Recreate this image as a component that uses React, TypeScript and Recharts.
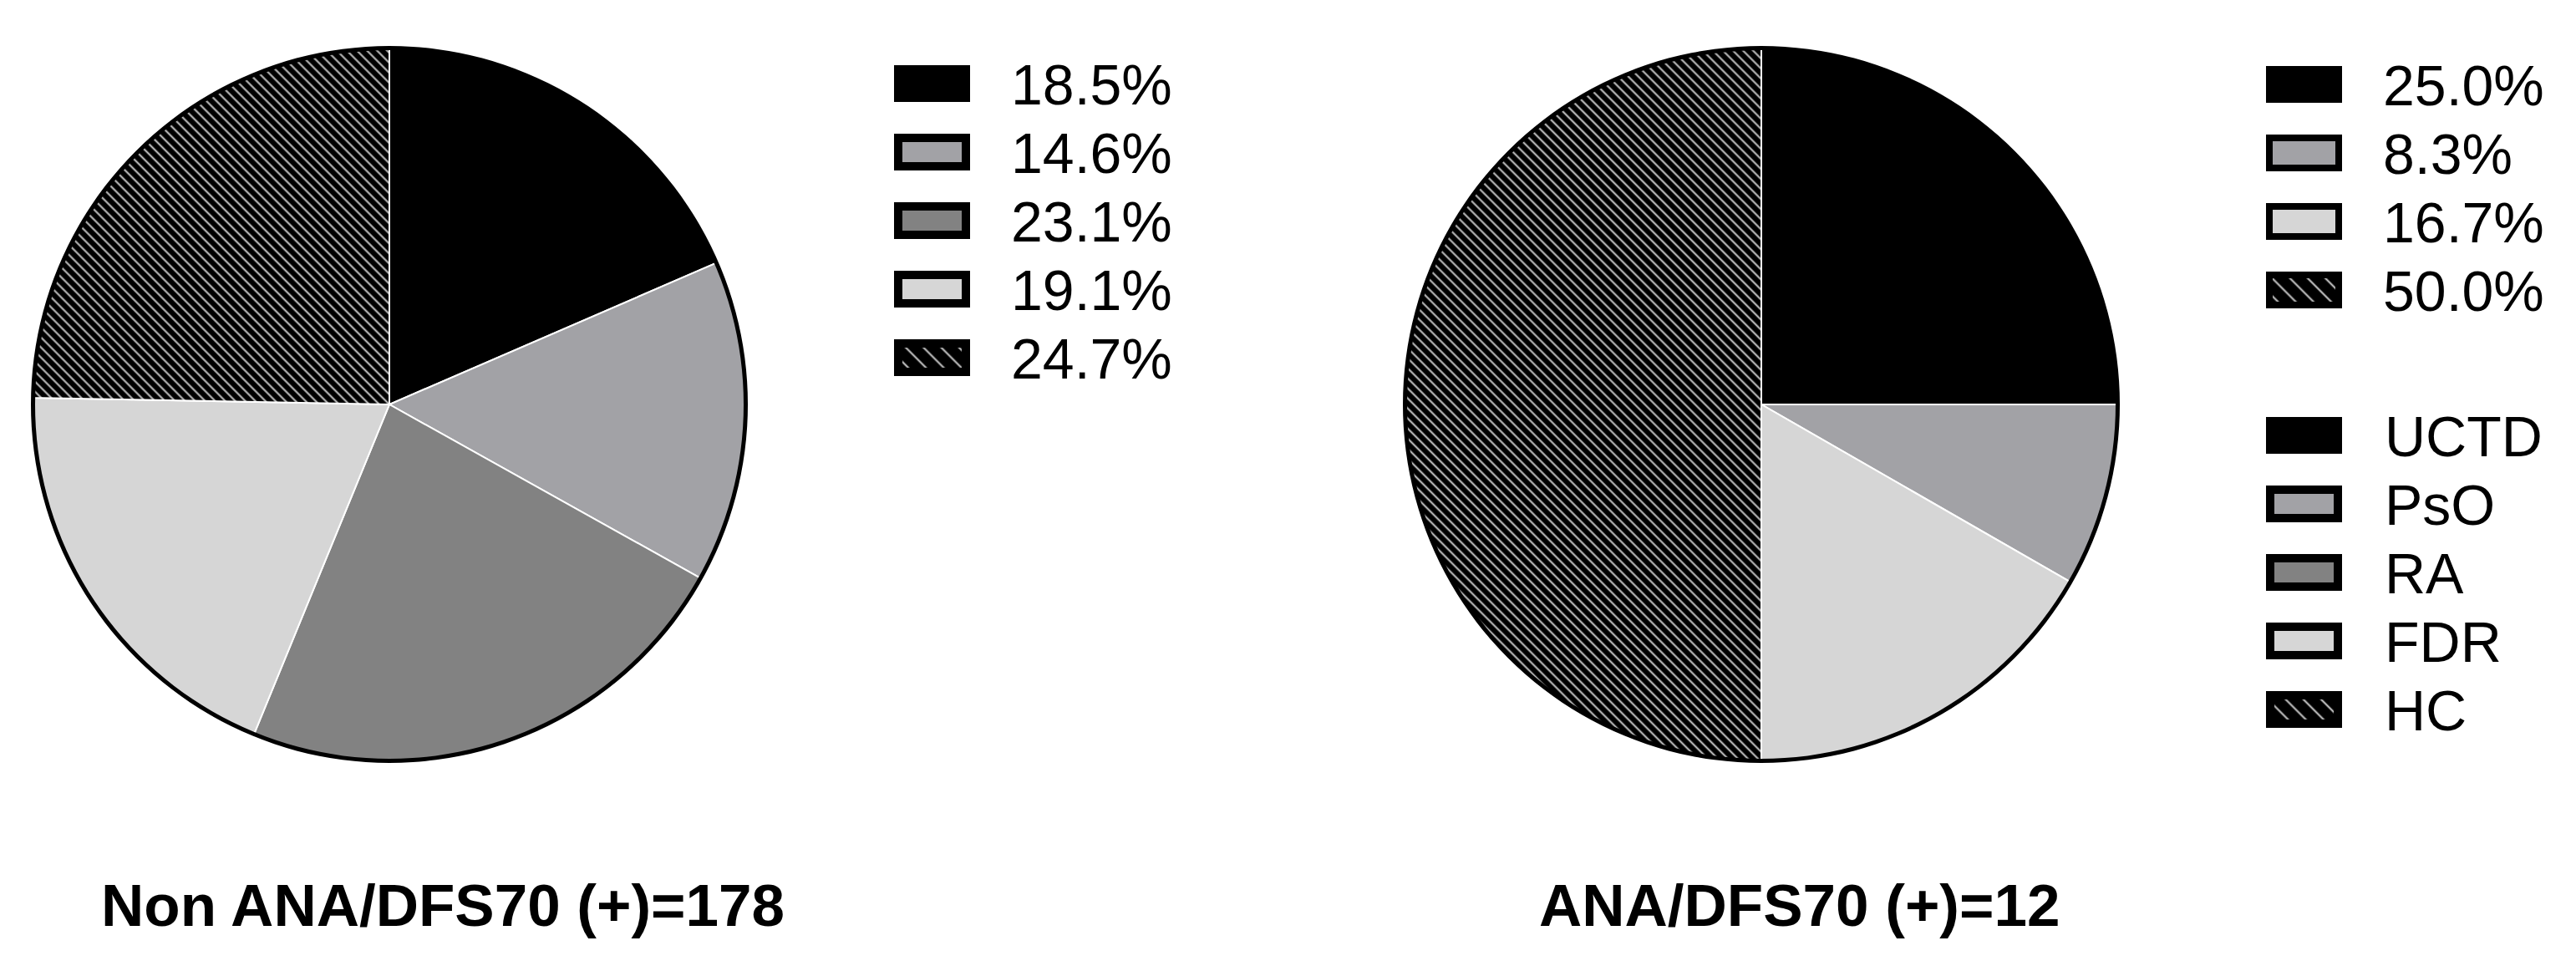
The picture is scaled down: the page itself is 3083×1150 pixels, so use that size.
import React from "react";
import { PieChart, Pie, Cell } from "recharts";

// disease groups, in slice order (clockwise from 12 o'clock)
const categories = ["UCTD", "PsO", "RA", "FDR", "HC"];
// percentages per group
const nonAnaPercent = [18.5, 14.6, 23.1, 19.1, 24.7];
const anaPercent = [25.0, 8.3, 0, 16.7, 50.0];
const titles = ["Non ANA/DFS70 (+)=178", "ANA/DFS70 (+)=12"];

const fills: Record<string, string> = {
  UCTD: "#000000",
  PsO: "#a2a2a6",
  RA: "#828282",
  FDR: "#d6d6d6",
  HC: "url(#hatchPie)",
};

const toSlices = (vals: number[]) =>
  categories.map((c, i) => ({ name: c, value: vals[i] })).filter((d) => d.value > 0);

const leftData = toSlices(nonAnaPercent);
const rightData = toSlices(anaPercent);
const ring = [{ name: "outline", value: 1 }];

const FONT = "'Liberation Sans', Arial, sans-serif";
const W = 3083;
const H = 1150;
const R = 429;
const CY = 484;

function Swatch({ x, y, name, border = 10 }: { x: number; y: number; name: string; border?: number }) {
  const w = 91;
  const h = 44;
  if (name === "UCTD") return <rect x={x} y={y} width={w} height={h} fill="#000" />;
  const inner = name === "HC" ? "url(#hatchLegend)" : fills[name];
  return (
    <g>
      <rect x={x} y={y} width={w} height={h} fill="#000" />
      <rect x={x + border} y={y + border} width={w - 2 * border} height={h - 2 * border} fill={inner} />
    </g>
  );
}

function LegendRows({ x, top, rows, textX, border }: { x: number; top: number; rows: { name: string; label: string }[]; textX: number; border?: number }) {
  return (
    <g>
      {rows.map((r, i) => {
        const y = top + i * 82;
        return (
          <g key={r.name + i}>
            <Swatch x={x} y={y} name={r.name} border={border} />
            <text x={textX} y={y + 47} fontSize={68} fontFamily={FONT} fill="#000">
              {r.label}
            </text>
          </g>
        );
      })}
    </g>
  );
}

export default function App() {
  const leftRows = leftData.map((d) => ({ name: d.name, label: d.value.toFixed(1) + "%" }));
  const rightRows = rightData.map((d) => ({ name: d.name, label: d.value.toFixed(1) + "%" }));
  const catRows = categories.map((c) => ({ name: c, label: c }));

  return (
    <div style={{ position: "relative", width: W, height: H, background: "#fff" }}>
      <style>{`body{margin:0}`}</style>
      <svg width={0} height={0} style={{ position: "absolute" }}>
        <defs>
          <pattern id="hatchPie" patternUnits="userSpaceOnUse" width={8.5} height={8.5} patternTransform="rotate(-45)">
            <rect width={8.5} height={8.5} fill="#000" />
            <line x1={4.25} y1={0} x2={4.25} y2={8.5} stroke="#c8c8c8" strokeWidth={2} />
          </pattern>
          <pattern id="hatchLegend" patternUnits="userSpaceOnUse" width={15} height={15} patternTransform="rotate(-45)">
            <rect width={15} height={15} fill="#000" />
            <line x1={7.5} y1={0} x2={7.5} y2={15} stroke="#d0d0d0" strokeWidth={2} />
          </pattern>
        </defs>
      </svg>

      <div style={{ position: "absolute", left: 0, top: 0 }}>
        <PieChart width={W} height={H} margin={{ top: 0, right: 0, bottom: 0, left: 0 }}>
          <Pie data={leftData} dataKey="value" cx={466} cy={CY} outerRadius={R} startAngle={90} endAngle={-270}
            stroke="#fff" strokeWidth={2} isAnimationActive={false}>
            {leftData.map((d) => <Cell key={d.name} fill={fills[d.name]} />)}
          </Pie>
          <Pie data={ring} dataKey="value" cx={466} cy={CY} innerRadius={R - 5} outerRadius={R}
            fill="#000" stroke="none" isAnimationActive={false} />
          <Pie data={rightData} dataKey="value" cx={2108} cy={CY} outerRadius={R} startAngle={90} endAngle={-270}
            stroke="#fff" strokeWidth={2} isAnimationActive={false}>
            {rightData.map((d) => <Cell key={d.name} fill={fills[d.name]} />)}
          </Pie>
          <Pie data={ring} dataKey="value" cx={2108} cy={CY} innerRadius={R - 5} outerRadius={R}
            fill="#000" stroke="none" isAnimationActive={false} />
        </PieChart>
      </div>

      <svg width={W} height={H} style={{ position: "absolute", left: 0, top: 0, pointerEvents: "none" }}>
        <LegendRows x={1070} top={78} rows={leftRows} textX={1210} />
        <LegendRows x={2712} top={79} rows={rightRows} textX={2852} border={8} />
        <LegendRows x={2712} top={499} rows={catRows} textX={2854} />
        <text x={121} y={1108} fontSize={71} fontWeight="bold" fontFamily={FONT} fill="#000">{titles[0]}</text>
        <text x={1842} y={1108} fontSize={71} fontWeight="bold" fontFamily={FONT} fill="#000">{titles[1]}</text>
      </svg>
    </div>
  );
}
